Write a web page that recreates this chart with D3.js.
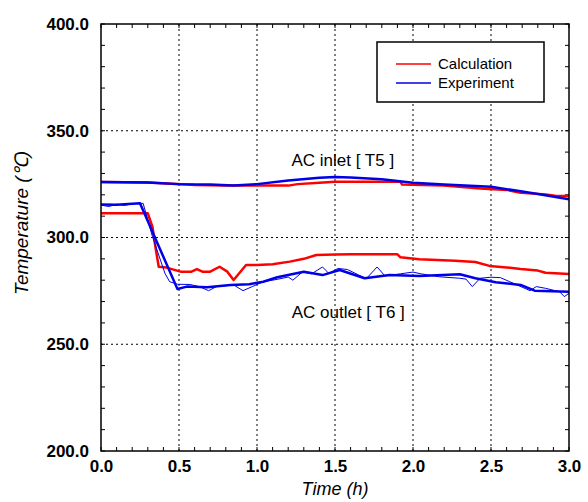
<!DOCTYPE html>
<html><head><meta charset="utf-8">
<script src="https://cdn.jsdelivr.net/npm/d3@7"></script>
<style>body{margin:0;background:#fff}svg{display:block}</style>
</head><body>
<svg id="c" width="588" height="502"></svg>
<script>
const xTicks = [0,0.5,1.0,1.5,2.0,2.5,3.0];
const yTicks = [200,250,300,350,400];

const calcInletT = [0,0.3,0.45,0.55,0.6,0.8,1.0,1.2,1.26,1.4,1.5,1.92,1.93,2.2,2.43,2.6,2.69,2.85,2.91,3.0];
const calcInletV = [326,325.8,325.2,324.8,324.6,324.3,324.3,324.3,325,325.6,326.1,326.1,324.8,324.3,323,322.3,321,320.2,319.6,319.4];

const expInletT = [0,0.3,0.5,0.7,0.85,1.0,1.2,1.4,1.5,1.6,1.8,2.0,2.2,2.5,2.7,2.8,3.0];
const expInletV = [326,325.8,325,324.8,324.3,325,326.7,328,328.3,328.1,327.3,325.6,324.8,323.8,321.5,320.4,317.9];

const calcOutletT = [0,0.3,0.33,0.35,0.37,0.42,0.51,0.58,0.615,0.65,0.7,0.76,0.81,0.85,0.93,1.0,1.1,1.21,1.3,1.38,1.5,1.6,1.9,1.92,2.04,2.27,2.4,2.49,2.6,2.69,2.8,2.85,3.0];
const calcOutletV = [311.3,311.3,305,295,286.3,285.9,284,284,285.2,284,284,286.3,284,280.1,287.1,287.1,287.5,288.7,290,291.8,292,292.1,292.1,290.7,289.8,289.1,288.5,286.7,286,285.2,284.5,283.5,282.9];

const expOutletT = [0,0.1,0.25,0.49,0.55,0.68,0.83,0.95,1.04,1.13,1.3,1.42,1.53,1.69,1.85,2.04,2.3,2.4,2.53,2.69,2.78,3.0];
const expOutletV = [315.5,315.3,316,275.9,277,276.7,277.8,278.1,279.3,281.4,284,282.4,284.8,280.9,282.4,282,282.8,280.9,279,277.8,275.1,274.6];

const expOutletRawT = [0,0.05,0.1,0.15,0.2,0.27,0.33,0.41,0.44,0.49,0.57,0.63,0.69,0.74,0.85,0.91,0.97,1.04,1.13,1.2,1.23,1.29,1.35,1.42,1.46,1.52,1.58,1.65,1.7,1.77,1.82,1.92,2.0,2.05,2.17,2.3,2.34,2.38,2.43,2.5,2.56,2.62,2.75,2.79,2.85,2.94,2.97,3.0];
const expOutletRawV = [315.2,314.5,315.6,315,315.8,316,300.4,283.2,279.3,278.1,278,277,275.1,277,277.8,275.1,277,279.3,280.4,281.5,280,283.8,283,286.2,283.2,285.5,285,282.5,280.7,286.2,282,283,283.8,283,281.6,280.9,280.5,277,280.9,281.4,281.2,279.3,275.1,277,276.2,274.6,272.3,273.9];

const legendLabels = ["Calculation","Experiment"];
const annotations = [{t:1.55,v:333.5,text:"AC inlet [ T5 ]"},{t:1.585,v:262.2,text:"AC outlet [ T6 ]"}];

const RED = "#ff0000", BLUE = "#0000e6";
const m = {l:101, r:569, t:24, b:451};
const x = d3.scaleLinear().domain([0,3]).range([m.l,m.r]);
const y = d3.scaleLinear().domain([200,400]).range([m.b,m.t]);
const svg = d3.select("#c");
const FONT = "'Liberation Sans', Arial, sans-serif";

// grid
const g = svg.append("g");
xTicks.slice(1,-1).forEach(t=>g.append("line").attr("x1",x(t)).attr("x2",x(t)).attr("y1",m.t).attr("y2",m.b)
  .attr("stroke","#000").attr("stroke-width",1).attr("stroke-dasharray","2,3"));
yTicks.slice(1,-1).forEach(v=>g.append("line").attr("y1",y(v)).attr("y2",y(v)).attr("x1",m.l).attr("x2",m.r)
  .attr("stroke","#000").attr("stroke-width",1).attr("stroke-dasharray","2,3"));

// minor ticks
const tk = svg.append("g").attr("stroke","#000").attr("stroke-width",1);
d3.range(0,3.0001,0.1).forEach(t=>{
  tk.append("line").attr("x1",x(t)).attr("x2",x(t)).attr("y1",m.b).attr("y2",m.b-4);
  tk.append("line").attr("x1",x(t)).attr("x2",x(t)).attr("y1",m.t).attr("y2",m.t+4);
});
d3.range(200,400.001,10).forEach(v=>{
  tk.append("line").attr("y1",y(v)).attr("y2",y(v)).attr("x1",m.l).attr("x2",m.l+4);
  tk.append("line").attr("y1",y(v)).attr("y2",y(v)).attr("x1",m.r).attr("x2",m.r-4);
});

// axes labels via d3 axis
const xa = svg.append("g").attr("transform",`translate(0,${m.b})`)
  .call(d3.axisBottom(x).tickValues(xTicks).tickFormat(d3.format(".1f")).tickSize(0).tickPadding(9));
const ya = svg.append("g").attr("transform",`translate(${m.l},0)`)
  .call(d3.axisLeft(y).tickValues(yTicks).tickFormat(d3.format(".1f")).tickSize(0).tickPadding(12));
[xa,ya].forEach(a=>{a.select(".domain").remove();
  a.selectAll("text").attr("font-family",FONT).attr("font-size","17px").attr("font-weight","bold").attr("fill","#000");});

// series
const line = d3.line().x(d=>x(d[0])).y(d=>y(d[1]));
const zip = (a,b)=>a.map((t,i)=>[t,b[i]]);
const drawLine=(T,V,col,w)=>svg.append("path").datum(zip(T,V)).attr("d",line)
  .attr("fill","none").attr("stroke",col).attr("stroke-width",w).attr("stroke-linejoin","round");
drawLine(calcInletT,calcInletV,RED,2.5);
drawLine(calcOutletT,calcOutletV,RED,2.5);
drawLine(expOutletRawT,expOutletRawV,BLUE,1);
drawLine(expInletT,expInletV,BLUE,2.5);
drawLine(expOutletT,expOutletV,BLUE,2.5);

// frame
svg.append("rect").attr("x",m.l).attr("y",m.t).attr("width",m.r-m.l).attr("height",m.b-m.t)
  .attr("fill","none").attr("stroke","#000").attr("stroke-width",1.5);

// annotations
annotations.forEach(a=>svg.append("text").attr("x",x(a.t)).attr("y",y(a.v)).attr("text-anchor","middle")
  .attr("font-family",FONT).attr("font-size","17px").attr("fill","#000").text(a.text));

// legend
const lg = svg.append("g");
lg.append("rect").attr("x",377).attr("y",42).attr("width",167).attr("height",60)
  .attr("fill","#fff").attr("stroke","#000").attr("stroke-width",1.5);
[RED,BLUE].forEach((c,i)=>{
  lg.append("line").attr("x1",396).attr("x2",431).attr("y1",64+i*19).attr("y2",64+i*19).attr("stroke",c).attr("stroke-width",1.5);
  lg.append("text").attr("x",438).attr("y",69+i*19).attr("font-family",FONT).attr("font-size","15px").attr("fill","#000").text(legendLabels[i]);
});

// axis titles
svg.append("text").attr("x",(m.l+m.r)/2).attr("y",495).attr("text-anchor","middle")
  .attr("font-family",FONT).attr("font-size","18px").attr("font-style","italic").text("Time (h)");
svg.append("text").attr("transform","translate(28,223) rotate(-90)").attr("text-anchor","middle")
  .attr("font-family",FONT).attr("font-size","19px").attr("font-style","italic").text("Temperature (℃)");
</script>
</body></html>
